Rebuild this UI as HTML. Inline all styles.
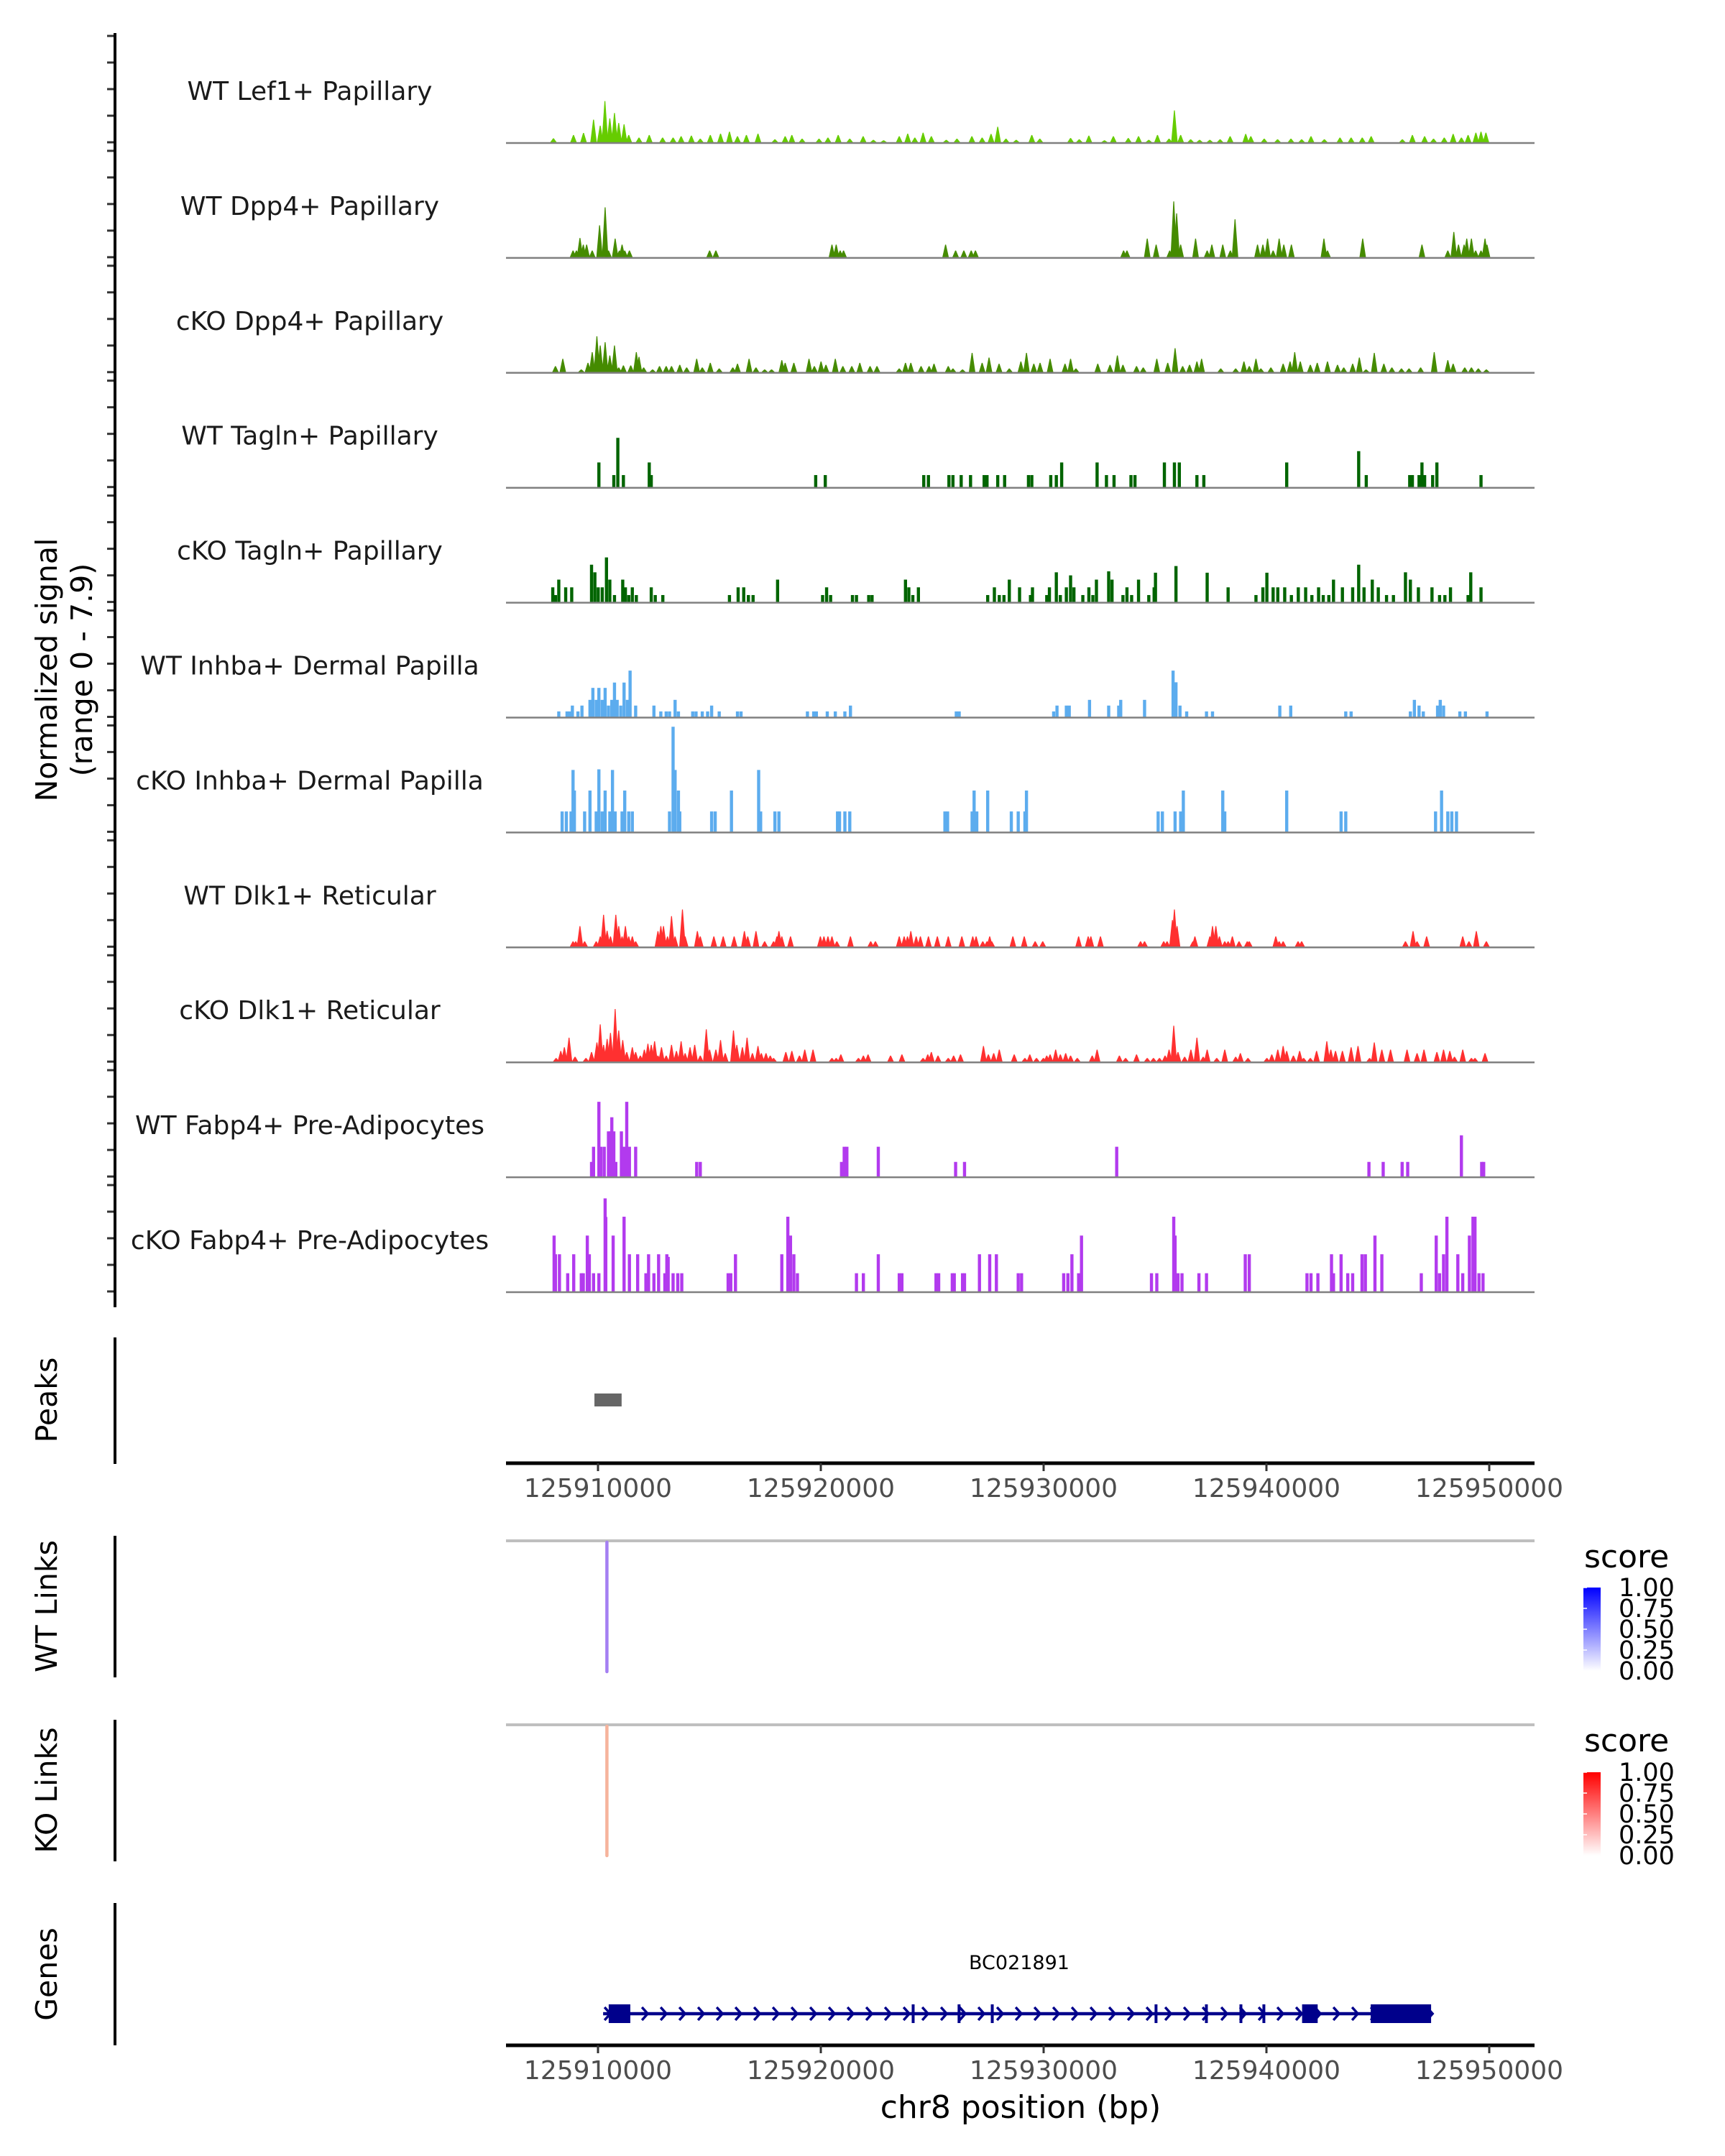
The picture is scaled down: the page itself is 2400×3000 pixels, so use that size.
<!DOCTYPE html>
<html><head><meta charset="utf-8"><title>chr8 coverage</title>
<style>html,body{margin:0;padding:0;background:#fff}svg{display:block;font-family:"DejaVu Sans","Liberation Sans",sans-serif}</style>
</head><body>
<svg id="chart" width="2400" height="3000" viewBox="0 0 2400 3000" xmlns="http://www.w3.org/2000/svg">
<defs>
<linearGradient id="gBlue" x1="0" y1="1" x2="0" y2="0"><stop offset="0" stop-color="#ffffff"/><stop offset="1" stop-color="#0000ff"/></linearGradient>
<linearGradient id="gRed" x1="0" y1="1" x2="0" y2="0"><stop offset="0" stop-color="#ffffff"/><stop offset="1" stop-color="#ff0000"/></linearGradient>
</defs>
<rect width="2400" height="3000" fill="#fff"/>
<g id="tracks"></g>
<text transform="translate(79,932) rotate(-90)" text-anchor="middle" font-size="41" fill="#000">Normalized signal</text>
<text transform="translate(128,932) rotate(-90)" text-anchor="middle" font-size="41" fill="#000">(range 0 - 7.9)</text>
<text transform="translate(79,1948) rotate(-90)" text-anchor="middle" font-size="41" fill="#000">Peaks</text>
<text transform="translate(79,2235) rotate(-90)" text-anchor="middle" font-size="41" fill="#000">WT Links</text>
<text transform="translate(79,2491) rotate(-90)" text-anchor="middle" font-size="41" fill="#000">KO Links</text>
<text transform="translate(79,2747) rotate(-90)" text-anchor="middle" font-size="41" fill="#000">Genes</text>
<line x1="160" y1="46" x2="160" y2="1819" stroke="#000" stroke-width="4"/>
<line x1="160" y1="1861" x2="160" y2="2037" stroke="#000" stroke-width="4"/>
<line x1="160" y1="2137" x2="160" y2="2334" stroke="#000" stroke-width="4"/>
<line x1="160" y1="2393" x2="160" y2="2590" stroke="#000" stroke-width="4"/>
<line x1="160" y1="2648" x2="160" y2="2846" stroke="#000" stroke-width="4"/>
<g id="lower"></g>
<text x="1420" y="2947" text-anchor="middle" font-size="44" fill="#000">chr8 position (bp)</text>
<g>
<text x="2204" y="2181" font-size="44" fill="#000">score</text>
<rect x="2203" y="2209" width="24" height="116" fill="url(#gBlue)"/>
</g>
<g>
<text x="2204" y="2437" font-size="44" fill="#000">score</text>
<rect x="2203" y="2466" width="24" height="116" fill="url(#gRed)"/>
</g>
<g id="legendLabels"></g>
</svg>
<script>
const NS='http://www.w3.org/2000/svg';
const xTicks=[10,20,30,40,50];
const xTickLabels=['125910000','125920000','125930000','125940000','125950000'];
const trackNames=['WT Lef1+ Papillary','WT Dpp4+ Papillary','cKO Dpp4+ Papillary','WT Tagln+ Papillary','cKO Tagln+ Papillary','WT Inhba+ Dermal Papilla','cKO Inhba+ Dermal Papilla','WT Dlk1+ Reticular','cKO Dlk1+ Reticular','WT Fabp4+ Pre-Adipocytes','cKO Fabp4+ Pre-Adipocytes'];
const trackColors=['#66cc00','#458b00','#458b00','#006400','#006400','#5cacee','#5cacee','#ff3030','#ff3030','#b23aee','#b23aee'];
const sigLef1WT=[[8.0,.3],[8.9,.55],[9.35,.7],[9.8,1.7],[10.1,1.25],[10.31,3.1],[10.53,1.8],[10.74,2.2],[10.93,1.45],[11.17,1.35],[11.38,.55],[11.84,.35],[12.3,.55],[12.9,.35],[13.37,.35],[13.73,.45],[14.19,.5],[14.59,.27],[15.04,.55],[15.5,.65],[15.9,.8],[16.26,.45],[16.66,.55],[17.18,.65],[17.94,.22],[18.4,.45],[18.7,.55],[19.16,.27],[19.92,.27],[20.32,.35],[20.78,.55],[21.3,.27],[21.9,.45],[22.36,.18],[22.82,.15],[23.52,.45],[23.9,.65],[24.22,.35],[24.59,.72],[24.96,.45],[25.63,.18],[26.11,.27],[26.78,.45],[27.24,.35],[27.64,.63],[27.94,1.17],[28.31,.27],[28.77,.18],[29.47,.55],[29.83,.27],[31.21,.32],[31.6,.22],[32.03,.5],[32.73,.15],[33.13,.45],[33.8,.32],[34.26,.45],[34.72,.18],[35.11,.55],[35.63,.27],[35.87,2.4],[36.15,.55],[36.6,.22],[37.0,.18],[37.46,.18],[37.92,.22],[38.37,.45],[39.07,.63],[39.3,.45],[39.9,.27],[40.5,.22],[41.1,.27],[41.58,.22],[42.0,.45],[42.6,.22],[43.3,.35],[43.8,.35],[44.3,.35],[44.7,.45],[46.1,.22],[46.55,.55],[47.1,.45],[47.5,.27],[47.98,.35],[48.38,.63],[48.75,.35],[49.05,.55],[49.4,.72],[49.63,.8],[49.85,.72]];
const sigDpp4WT=[[8.88,.5],[9.03,.5],[9.19,1.45],[9.34,.95],[9.49,.95],[9.74,.5],[10.07,2.4],[10.32,3.75],[10.47,.5],[10.77,1.4],[10.96,.5],[11.08,.95],[11.2,.5],[11.41,.5],[15.01,.5],[15.29,.5],[20.5,.95],[20.69,.95],[20.87,.5],[21.02,.5],[25.6,.95],[26.05,.5],[26.42,.5],[26.75,.5],[26.94,.5],[33.59,.5],[33.74,.5],[34.65,1.4],[35.05,.95],[35.66,.5],[35.84,4.2],[35.97,3.3],[36.15,.95],[36.82,1.4],[37.34,.5],[37.55,.95],[38.04,.95],[38.38,.5],[38.59,2.85],[39.6,.95],[39.84,.95],[40.05,1.4],[40.3,.5],[40.57,1.4],[40.78,.95],[41.12,.95],[42.58,1.4],[42.74,.5],[44.32,1.4],[46.98,.95],[48.14,.5],[48.41,1.9],[48.62,.95],[48.87,.95],[48.99,1.4],[49.2,1.4],[49.39,.5],[49.63,.5],[49.81,1.4],[49.9,.95]];
const sigDpp4KO=[[8.09,.45],[8.42,1.0],[9.25,.2],[9.55,.7],[9.74,1.5],[9.95,2.7],[10.1,2.0],[10.32,2.25],[10.53,1.25],[10.74,2.0],[10.93,.35],[11.14,.5],[11.47,.5],[11.72,1.5],[11.84,1.15],[12.05,.35],[12.45,.2],[12.76,.45],[13.06,.45],[13.3,.45],[13.67,.55],[13.98,.35],[14.43,1.0],[14.68,.35],[15.04,.7],[15.44,.27],[16.05,.35],[16.26,.63],[16.78,1.0],[17.09,.35],[17.48,.2],[17.79,.2],[18.25,.9],[18.4,.7],[18.79,.7],[19.47,1.0],[19.71,.45],[20.01,.8],[20.23,.55],[20.65,1.0],[20.99,.45],[21.39,.45],[21.75,.7],[22.21,.45],[22.52,.45],[23.52,.27],[23.8,.7],[24.04,.7],[24.5,.45],[24.86,.45],[25.08,.63],[25.72,.45],[25.93,.27],[26.36,.2],[26.79,1.45],[27.24,.7],[27.55,1.1],[28.0,.63],[28.46,.27],[28.98,.8],[29.23,1.45],[29.56,.63],[29.84,.7],[30.29,1.0],[30.96,.63],[31.21,1.0],[31.45,.27],[32.43,.63],[32.98,.55],[33.31,1.25],[33.56,.55],[34.17,.45],[34.47,.35],[35.08,1.0],[35.57,.7],[35.9,1.8],[36.24,.45],[36.55,.55],[36.88,.8],[37.09,1.0],[37.95,.27],[38.62,.27],[38.99,.8],[39.23,.45],[39.53,1.0],[39.75,.27],[40.2,.35],[40.75,.63],[41.06,.8],[41.27,1.5],[41.52,.8],[41.97,.55],[42.28,.7],[42.74,.8],[43.19,.55],[43.47,.35],[43.87,.63],[44.17,1.1],[44.47,.2],[44.84,1.45],[45.27,.63],[45.63,.35],[46.06,.27],[46.4,.27],[46.92,.35],[47.53,1.5],[48.14,.9],[48.38,.63],[48.9,.35],[49.2,.35],[49.51,.27],[49.87,.2]];
const sigTaglnWT=[[10.04,1.85],[10.71,.9],[10.89,3.7],[11.14,.9],[12.3,1.85],[12.39,.9],[19.77,.9],[20.2,.9],[24.62,.9],[24.83,.9],[25.75,.9],[25.93,.9],[26.3,.9],[26.72,.9],[27.33,.9],[27.46,.9],[27.94,.9],[28.25,.9],[29.32,.9],[29.47,.9],[30.32,.9],[30.57,.9],[30.81,1.85],[32.4,1.85],[32.82,.9],[33.16,.9],[33.92,.9],[34.1,.9],[35.42,1.85],[35.87,1.85],[36.09,1.85],[36.88,.9],[37.19,.9],[40.91,1.85],[44.14,2.7],[44.48,.9],[46.43,.9],[46.55,.9],[46.85,.9],[46.98,1.85],[47.1,.9],[47.46,.9],[47.65,1.85],[49.63,.9]];
const sigTaglnKO=[[7.97,1.1],[8.09,.52],[8.24,1.68],[8.55,1.1],[8.82,1.1],[9.71,2.8],[9.86,2.23],[10.01,1.1],[10.19,1.1],[10.38,3.35],[10.53,1.68],[10.74,.52],[11.11,1.68],[11.23,1.1],[11.38,.52],[11.54,1.1],[11.72,.52],[12.39,1.1],[12.57,.52],[12.91,.52],[15.9,.52],[16.29,1.1],[16.54,1.1],[16.75,.52],[16.96,.52],[18.06,1.68],[20.08,.52],[20.26,1.1],[20.44,.52],[21.42,.52],[21.6,.52],[22.15,.52],[22.3,.52],[23.8,1.68],[23.95,1.1],[24.13,.52],[24.38,1.1],[27.49,.52],[27.79,1.1],[28.01,.52],[28.22,.52],[28.46,1.68],[28.92,1.1],[29.41,.52],[29.5,1.1],[30.14,.52],[30.26,1.1],[30.57,2.23],[30.75,.52],[31.02,1.1],[31.21,2.0],[31.36,1.1],[31.76,.52],[32.03,1.1],[32.21,.52],[32.37,1.68],[32.92,2.3],[33.07,1.68],[33.56,.52],[33.74,1.1],[33.95,.52],[34.26,1.68],[34.72,.52],[34.96,1.1],[35.02,2.2],[35.94,2.7],[37.34,2.2],[38.28,1.1],[39.53,.52],[39.84,1.1],[40.02,2.2],[40.3,1.1],[40.51,1.1],[40.82,1.1],[41.12,.52],[41.43,1.1],[41.76,1.1],[42.04,.52],[42.34,1.1],[42.55,.52],[42.8,.52],[43.01,1.68],[43.41,1.1],[43.87,1.1],[44.14,2.8],[44.38,1.1],[44.75,1.68],[45.02,1.1],[45.39,.52],[45.7,.52],[46.24,2.23],[46.46,1.68],[46.82,1.1],[47.43,1.1],[47.77,.52],[48.01,.52],[48.26,1.1],[49.05,.52],[49.17,2.23],[49.63,1.1]];
const sigInhbaWT=[[8.24,.41],[8.61,.41],[8.73,.41],[8.85,.85],[9.1,.41],[9.28,.85],[9.64,1.28],[9.77,2.18],[9.92,1.28],[10.04,2.18],[10.19,1.28],[10.32,2.18],[10.47,.85],[10.62,1.28],[10.74,2.58],[10.86,1.28],[11.02,.85],[11.17,2.58],[11.32,1.28],[11.44,3.48],[11.69,.85],[12.51,.85],[12.82,.41],[13.06,.41],[13.21,.41],[13.46,1.28],[13.61,.41],[14.25,.41],[14.4,.41],[14.68,.41],[14.92,.41],[15.1,.85],[15.44,.41],[16.26,.41],[16.42,.41],[19.4,.41],[19.68,.41],[19.8,.41],[20.29,.41],[20.65,.41],[21.08,.41],[21.33,.85],[26.08,.41],[26.21,.41],[30.45,.41],[30.6,.85],[31.02,.85],[31.15,.85],[32.06,1.28],[32.92,.85],[33.37,.85],[33.46,1.28],[34.53,1.28],[35.81,3.48],[35.94,2.6],[36.12,.85],[36.42,.41],[37.31,.41],[37.58,.41],[40.6,.85],[41.09,.85],[43.56,.41],[43.8,.41],[46.46,.41],[46.64,1.28],[46.85,.85],[47.04,.41],[47.68,.85],[47.8,1.28],[47.95,.85],[48.68,.41],[48.93,.41],[49.9,.41]];
const sigInhbaKO=[[8.39,1.53],[8.58,1.53],[8.79,1.53],[8.88,4.65],[8.94,3.1],[9.4,1.53],[9.64,3.1],[9.92,1.53],[10.04,4.7],[10.19,1.53],[10.32,3.1],[10.53,1.53],[10.65,4.65],[10.77,1.53],[11.08,1.53],[11.2,3.1],[11.38,1.53],[11.54,1.53],[13.21,1.53],[13.37,7.9],[13.46,4.65],[13.61,3.1],[13.67,1.53],[15.1,1.53],[15.26,1.53],[15.99,3.1],[17.21,4.65],[17.3,1.53],[17.94,1.53],[18.12,1.53],[20.75,1.53],[20.84,1.53],[21.08,1.53],[21.3,1.53],[25.57,1.53],[25.69,1.53],[26.79,1.53],[26.88,3.1],[27.0,1.53],[27.49,3.1],[28.55,1.53],[28.86,1.53],[29.16,1.53],[29.23,3.1],[35.14,1.53],[35.33,1.53],[35.9,1.53],[36.15,1.53],[36.27,3.1],[38.04,3.1],[38.13,1.53],[40.91,3.1],[43.35,1.53],[43.56,1.53],[47.59,1.53],[47.86,3.1],[48.14,1.53],[48.32,1.53],[48.53,1.53]];
const sigDlk1WT=[[8.88,.4],[9.0,.4],[9.19,1.55],[9.4,.4],[9.92,.4],[10.1,.77],[10.25,2.4],[10.41,1.2],[10.56,.77],[10.8,2.4],[10.93,1.55],[11.08,.77],[11.23,1.55],[11.38,.77],[11.54,.77],[11.69,.4],[12.69,1.17],[12.82,1.55],[12.94,1.55],[13.12,.77],[13.3,2.3],[13.46,.77],[13.79,2.8],[13.91,.77],[14.46,1.17],[14.59,.77],[15.2,.77],[15.62,.77],[16.11,.77],[16.57,1.17],[16.72,.77],[17.09,1.17],[17.48,.4],[17.88,.4],[18.03,.77],[18.12,1.17],[18.25,.77],[18.64,.77],[19.98,.77],[20.14,.77],[20.32,.77],[20.5,.77],[20.72,.4],[21.33,.77],[22.24,.4],[22.45,.4],[23.52,.77],[23.74,.77],[23.89,.77],[24.04,1.17],[24.28,.77],[24.47,.77],[24.83,.77],[25.23,.77],[25.72,.77],[26.33,.77],[26.82,.77],[26.97,.77],[27.27,.4],[27.46,.4],[27.58,.77],[27.67,.4],[28.62,.77],[29.13,.77],[29.62,.4],[29.96,.4],[31.57,.77],[32.0,.77],[32.12,.77],[32.55,.77],[34.35,.4],[34.53,.4],[35.39,.4],[35.54,.4],[35.78,2.0],[35.87,2.8],[35.99,1.55],[36.7,.4],[36.79,.77],[37.46,.77],[37.58,1.55],[37.73,1.55],[37.89,.77],[38.13,.4],[38.28,.4],[38.47,.77],[38.77,.4],[39.14,.4],[39.23,.4],[40.42,.77],[40.57,.4],[40.75,.4],[41.42,.4],[41.58,.4],[46.24,.4],[46.58,1.17],[46.76,.4],[47.19,.77],[48.81,.77],[49.09,.4],[49.42,1.17],[49.87,.4]];
const sigDlk1KO=[[8.12,.27],[8.33,.8],[8.49,1.08],[8.7,1.8],[8.97,.36],[9.46,.27],[9.71,.72],[9.95,1.44],[10.1,2.8],[10.25,1.26],[10.41,1.71],[10.56,2.16],[10.77,3.96],[10.93,2.34],[11.11,1.62],[11.29,.72],[11.54,1.08],[11.69,.72],[11.9,.45],[12.08,.9],[12.24,1.35],[12.39,1.26],[12.54,1.53],[12.69,.45],[12.85,1.08],[13.06,.45],[13.3,1.26],[13.52,.8],[13.73,1.53],[13.91,.63],[14.13,1.08],[14.34,1.26],[14.59,.45],[14.86,2.43],[15.01,.9],[15.29,.9],[15.5,1.62],[15.71,.63],[16.08,2.34],[16.23,1.26],[16.48,1.08],[16.69,1.8],[16.93,.63],[17.18,1.17],[17.33,.63],[17.54,.63],[17.73,.45],[17.88,.27],[18.43,.72],[18.7,.8],[19.04,.45],[19.28,.9],[19.65,.9],[20.5,.27],[20.69,.27],[20.9,.54],[21.69,.27],[21.91,.45],[22.12,.54],[23.13,.45],[23.64,.54],[24.59,.27],[24.8,.54],[24.96,.72],[25.26,.45],[25.72,.27],[25.96,.45],[26.27,.54],[27.3,1.17],[27.52,.54],[27.76,.63],[28.01,.9],[28.68,.54],[29.16,.27],[29.38,.54],[29.68,.27],[29.99,.27],[30.14,.45],[30.29,.54],[30.54,.9],[30.75,.54],[30.99,.63],[31.21,.45],[31.51,.27],[32.18,.45],[32.4,.9],[33.4,.45],[33.68,.27],[34.17,.54],[34.65,.27],[34.93,.27],[35.2,.27],[35.45,.45],[35.63,.9],[35.84,2.7],[36.03,.72],[36.33,.36],[36.61,.9],[36.88,1.8],[37.16,.36],[37.34,.9],[37.77,.27],[38.13,.9],[38.62,.36],[38.83,.63],[39.17,.27],[40.02,.27],[40.24,.54],[40.51,.9],[40.75,1.17],[40.91,.8],[41.21,.45],[41.49,.8],[41.67,.27],[41.97,.27],[42.25,.8],[42.71,1.53],[42.89,.9],[43.1,.8],[43.41,.8],[43.8,1.08],[44.11,1.17],[44.63,.27],[44.84,1.44],[45.18,.9],[45.57,.9],[46.31,.9],[46.76,.63],[47.07,.9],[47.65,.72],[47.95,.9],[48.23,.8],[48.44,.36],[48.81,.9],[49.2,.27],[49.36,.27],[49.81,.63]];
const sigFabp4WT=[[9.71,1.1],[9.8,2.24],[10.04,5.62],[10.13,2.24],[10.28,2.24],[10.47,3.4],[10.56,3.4],[10.62,4.46],[10.71,3.4],[10.8,1.1],[11.05,3.4],[11.17,2.24],[11.29,5.62],[11.41,2.24],[11.69,2.24],[14.43,1.1],[14.59,1.1],[20.93,1.1],[21.05,2.24],[21.17,2.24],[22.58,2.24],[26.05,1.1],[26.45,1.1],[33.28,2.24],[44.6,1.1],[45.24,1.1],[46.09,1.1],[46.34,1.1],[48.75,3.1],[49.66,1.1],[49.75,1.1]];
const sigFabp4KO=[[8.03,4.2],[8.09,2.8],[8.27,2.8],[8.64,1.37],[8.91,2.8],[9.25,1.37],[9.34,1.37],[9.52,4.2],[9.61,2.8],[9.8,1.37],[10.04,1.37],[10.32,7.0],[10.35,5.6],[10.68,4.2],[11.17,5.62],[11.41,2.8],[11.78,2.8],[12.15,1.37],[12.27,2.8],[12.51,1.37],[12.72,2.8],[13.0,1.37],[13.09,2.8],[13.15,2.6],[13.37,1.37],[13.58,1.37],[13.76,1.37],[15.84,1.37],[15.96,1.37],[16.17,2.8],[18.25,2.8],[18.52,5.62],[18.64,4.2],[18.79,2.8],[18.95,1.37],[21.6,1.37],[21.91,1.37],[22.58,2.8],[23.52,1.37],[23.64,1.37],[25.17,1.37],[25.29,1.37],[25.9,1.37],[25.99,1.37],[26.36,1.37],[26.45,1.37],[27.12,2.8],[27.58,2.8],[27.88,2.8],[28.86,1.37],[29.01,1.37],[30.9,1.37],[31.09,1.37],[31.27,2.8],[31.57,1.37],[31.7,4.2],[34.84,1.37],[35.08,1.37],[35.84,5.62],[35.9,4.2],[36.03,1.37],[36.21,1.37],[36.97,1.37],[37.31,1.37],[39.05,2.8],[39.23,2.8],[41.82,1.37],[42.0,1.37],[42.31,1.37],[42.92,2.8],[43.01,1.37],[43.35,2.8],[43.65,1.37],[43.87,1.37],[44.29,2.8],[44.44,2.8],[44.87,4.2],[45.18,2.8],[46.95,1.37],[47.62,4.2],[47.77,1.37],[47.95,2.8],[48.1,5.62],[48.59,2.8],[48.81,1.37],[49.11,4.2],[49.27,5.62],[49.36,5.62],[49.54,1.37],[49.72,1.37]];
const trackSignals=[sigLef1WT,sigDpp4WT,sigDpp4KO,sigTaglnWT,sigTaglnKO,sigInhbaWT,sigInhbaKO,sigDlk1WT,sigDlk1KO,sigFabp4WT,sigFabp4KO];
const yTicksSignal=[0,2,4,6,8];
const peakRegions=[[9.84,11.06]];
const wtLinks=[[10.4,0.45]];
const koLinks=[[10.4,0.3]];
const geneName='BC021891';
const geneSpan=[10.23,47.39];
const geneExons=[[10.48,11.45],[24.08,24.18],[26.14,26.24],[27.63,27.73],[34.98,35.08],[37.24,37.34],[38.79,38.89],[39.82,39.92],[41.6,42.3],[44.68,47.39]];
const legendTicks=[0,0.25,0.5,0.75,1];
const legendTickLabels=['0.00','0.25','0.50','0.75','1.00'];

const X0=832, PXKB=31.0, PLOTL=704, PLOTR=2135;
function xs(kb){return X0+(kb-10)*PXKB;}
const BASE0=198, TRK=159.9, PXU=18.5;
function trackBase(i){return BASE0+i*TRK;}
function ys(i,v){return trackBase(i)-v*PXU;}
function mk(tag,attrs,parent){const e=document.createElementNS(NS,tag);for(const k in attrs)e.setAttribute(k,attrs[k]);parent.appendChild(e);return e;}

const tg=document.getElementById('tracks');
trackSignals.forEach((sig,i)=>{
  const g=mk('g',{},tg);
  
  
  const lab=mk('text',{x:431,y:trackBase(i)-59,'text-anchor':'middle','font-size':36,fill:'#1a1a1a'},g);
  
  
  lab.textContent=trackNames[i];
  yTicksSignal.forEach(t=>{
    const tk=mk('line',{x1:149,x2:160,y1:ys(i,t),y2:ys(i,t),stroke:'#333',"stroke-width":3},g);
    
    
  });
  const stepped=[3,4,5,6,9,10].includes(i);
  const w=stepped?2.2:4.5;
  sig.forEach(([p,v])=>{
    const x=xs(p), b=trackBase(i), t=ys(i,v);
    const pts=stepped?`${x-w},${b} ${x-w},${t} ${x+w},${t} ${x+w},${b}`:`${x-w},${b} ${x-0.6},${t} ${x+0.6},${t} ${x+w},${b}`;
    const pk=mk('polygon',{points:pts,fill:trackColors[i]},g);
    
    
  });
  const bl=mk('line',{x1:PLOTL,x2:PLOTR,y1:trackBase(i)+1,y2:trackBase(i)+1,stroke:'#808080','stroke-width':2.5},g);
  
  
});

const lg=document.getElementById('lower');
peakRegions.forEach(([a,b])=>{
  const r=mk('rect',{x:xs(a),y:1939,width:xs(b)-xs(a),height:18,fill:'#666666'},lg);
  
  
});
function xAxis(y,name){
  const ax=mk('line',{x1:PLOTL,x2:PLOTR,y1:y,y2:y,stroke:'#000','stroke-width':5},lg);
  
  
  xTicks.forEach((t,k)=>{
    const tk=mk('line',{x1:xs(t),x2:xs(t),y1:y,y2:y+11,stroke:'#333','stroke-width':3},lg);
    
    
    const tl=mk('text',{x:xs(t),y:y+47,'text-anchor':'middle','font-size':36,fill:'#4d4d4d'},lg);
    
    
    tl.textContent=xTickLabels[k];
  });
}
xAxis(2036,'peaks-x-axis');
xAxis(2846,'genes-x-axis');

function links(arr,yTop,yBot,col,name){
  const gl=mk('line',{x1:PLOTL,x2:PLOTR,y1:yTop,y2:yTop,stroke:'#bfbfbf','stroke-width':4},lg);
  
  
  arr.forEach(([p,s])=>{
    const l=mk('line',{x1:xs(p),x2:xs(p),y1:yTop+2,y2:yBot,stroke:col,'stroke-width':4.5,'stroke-linecap':'round'},lg);
    
    
  });
}
links(wtLinks,2144,2326,'#a47ff2','wt-link');
links(koLinks,2400,2582,'#f6b39c','ko-link');

const gn=mk('text',{x:1418,y:2740,'text-anchor':'middle','font-size':27,fill:'#000'},lg);


gn.textContent=geneName;
const GY=2802;
const il=mk('line',{x1:xs(geneSpan[0]),x2:xs(geneSpan[1]),y1:GY,y2:GY,stroke:'#00008b','stroke-width':4.5},lg);


for(let px=xs(geneSpan[0])+6;px<xs(geneSpan[1]);px+=26){
  const c=mk('polyline',{points:`${px-4},${GY-9} ${px+4},${GY} ${px-4},${GY+9}`,fill:'none',stroke:'#00008b','stroke-width':3.5},lg);
  
  
}
geneExons.forEach(([a,b])=>{
  const r=mk('rect',{x:xs(a),y:GY-13,width:Math.max(4,xs(b)-xs(a)),height:26,fill:'#00008b'},lg);
  
  
});

const ll=document.getElementById('legendLabels');
[[2209,2325],[2466,2582]].forEach(([top,bot],j)=>{
  legendTicks.forEach((t,k)=>{
    const y=bot-t*(bot-top);
    const tk=mk('line',{x1:2203,x2:2208,y1:y,y2:y,stroke:'#fff','stroke-width':1.5},ll);
    
    
    const tl=mk('text',{x:2252,y:y+12,'font-size':35,fill:'#000'},ll);
    
    
    tl.textContent=legendTickLabels[k];
  });
});
</script>
</body></html>
